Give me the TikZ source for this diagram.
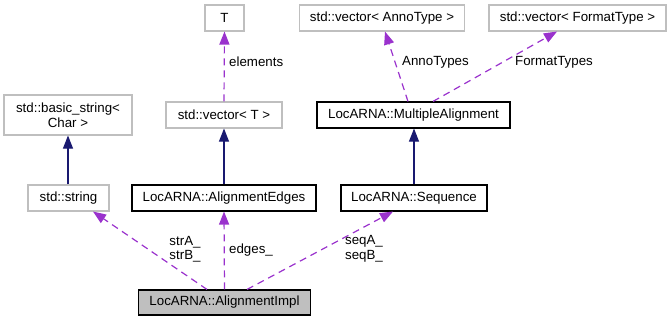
\documentclass[tikz,border=0pt]{standalone}
\usepackage{fontspec}
\setmainfont{Liberation Sans}
\usetikzlibrary{arrows.meta}
\definecolor{edgenavy}{HTML}{191970}
\definecolor{edgepurple}{HTML}{9A32CD}
\definecolor{extgray}{HTML}{BFBFBF}
\definecolor{implfill}{HTML}{BFBFBF}
\tikzset{
  every node/.style={font=\fontsize{13.3}{14.5}\selectfont, inner sep=0pt},
  classbox/.style={draw=black, line width=1.1pt, fill=white, align=center},
  extbox/.style={draw=extgray, line width=1.1pt, fill=white, align=center},
  implbox/.style={draw=black, line width=1.1pt, fill=implfill, align=center},
  inherit/.style={draw=edgenavy, line width=1.1pt, -{Triangle[length=13pt,width=10pt]}},
  uses/.style={draw=edgepurple, line width=1.2pt, dash pattern=on 7pt off 5pt,
    -{Triangle[length=13pt,width=10pt]}},
  edgelabel/.style={align=center, text=black}
}
\begin{document}
\begin{tikzpicture}[x=1pt, y=-1pt]
\useasboundingbox (0,0) rectangle (672,321);

% class boxes
\node[extbox, minimum width=39pt, minimum height=26pt] (T) at (224.5,18) {T};
\node[extbox, minimum width=165pt, minimum height=26pt] (anno) at (382,18) {std::vector\textless{} AnnoType \textgreater};
\node[extbox, minimum width=177pt, minimum height=26pt] (fmt) at (577.5,18) {std::vector\textless{} FormatType \textgreater};
\node[extbox, minimum width=128pt, minimum height=40pt] (bstr) at (68,115) {std::basic\_string\textless\\Char \textgreater};
\node[extbox, minimum width=116pt, minimum height=26pt] (vecT) at (224,115) {std::vector\textless{} T \textgreater};
\node[classbox, minimum width=193pt, minimum height=26pt] (ma) at (413.5,115) {LocARNA::MultipleAlignment};
\node[extbox, minimum width=81pt, minimum height=26pt] (str) at (68.5,198) {std::string};
\node[classbox, minimum width=184pt, minimum height=26pt] (edges) at (224,198) {LocARNA::AlignmentEdges};
\node[classbox, minimum width=146pt, minimum height=26pt] (seq) at (414,198) {LocARNA::Sequence};
\node[implbox, minimum width=172pt, minimum height=25pt] (impl) at (224.5,302.5) {LocARNA::AlignmentImpl};

% inheritance
\draw[inherit] ([xshift=-0.5pt]str.north) -- (bstr.south);
\draw[inherit] (edges.north) -- (vecT.south);
\draw[inherit] (seq.north) -- ([xshift=0.5pt]ma.south);

% usage relations
\draw[uses] (vecT.north) -- (T.south);
\draw[uses] ([xshift=-5.5pt]ma.north) -- ([xshift=3pt]anno.south);
\draw[uses] ([xshift=19.5pt]ma.north) -- ([xshift=-20.5pt]fmt.south);
\draw[uses] ([xshift=-17.5pt]impl.north) -- ([xshift=24.5pt]str.south);
\draw[uses] (impl.north) -- (edges.south);
\draw[uses] ([xshift=22.5pt]impl.north) -- ([xshift=-21pt]seq.south);

% edge labels
\node[edgelabel, anchor=west] (lelem) at (229,62) {elements};
\node[edgelabel, anchor=west] (lanno) at (402,62) {AnnoTypes};
\node[edgelabel, anchor=west] (lfmt) at (515,62) {FormatTypes};
\node[edgelabel] (lstr) at (185,249) {strA\_\\strB\_};
\node[edgelabel, anchor=west] (ledges) at (229,250) {edges\_};
\node[edgelabel] (lseq) at (364,249) {seqA\_\\seqB\_};
\end{tikzpicture}
\end{document}
